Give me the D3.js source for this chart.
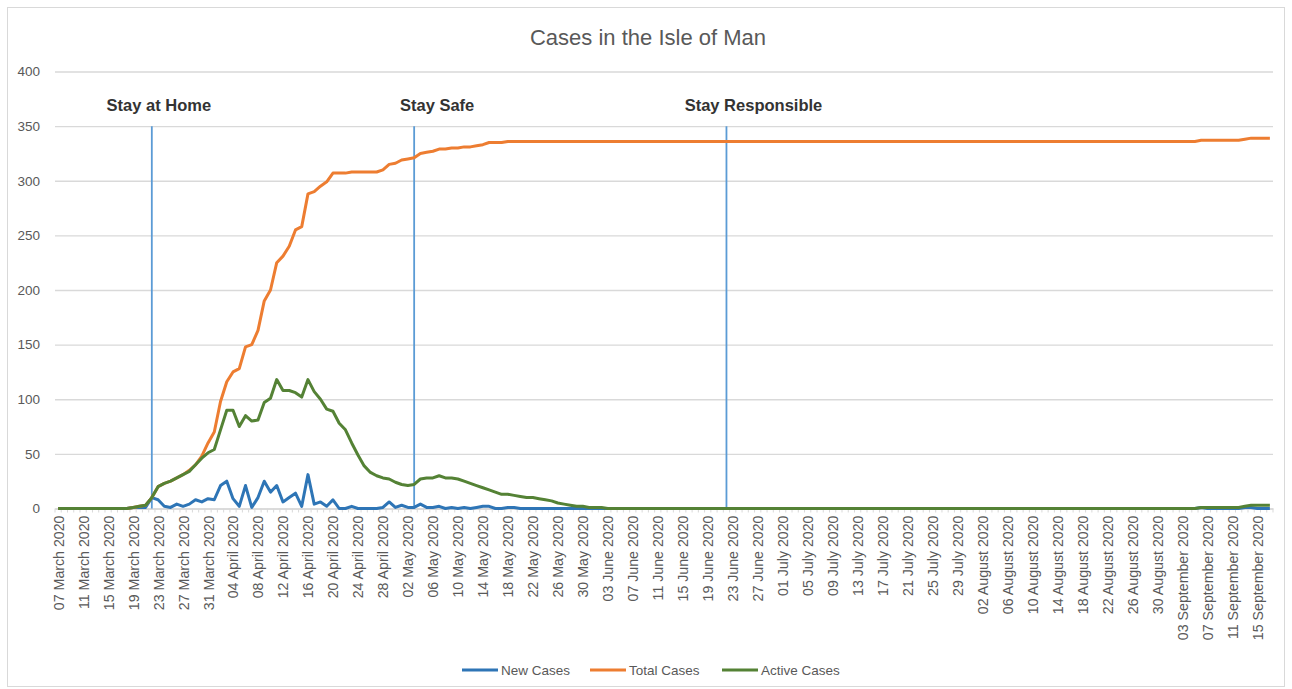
<!DOCTYPE html>
<html>
<head>
<meta charset="utf-8">
<script src="https://cdn.jsdelivr.net/npm/d3@7"></script>
<style>
  body { margin: 0; background: #fff; }
  text { font-family: "Liberation Sans", Arial, sans-serif; }
</style>
</head>
<body>
<div id="chart"></div>
<script>
// ---- data ----
var firstDay = "2020-03-07";
var lastDay = "2020-09-17";

var seriesNames = ["New Cases", "Total Cases", "Active Cases"];
var seriesColors = ["#2e75b6", "#ed7d31", "#548235"];

var newCases = [
  0,0,0,0,0,0,0,0,0,0, 0,0,1,1,1,10,8,2,1,4,
  2,4,8,6,9,8,21,25,9,2, 21,1,10,25,15,21,6,10,14,2,
  31,4,6,2,8,0,0,2,0,0, 0,0,1,6,1,3,1,1,4,1,
  1,2,0,1,0,1,0,1,2,2, 0,0,1,1,0,0,0,0,0,0,
  0,0,0,0,0,0,0,0,0,0, 0,0,0,0,0,0,0,0,0,0,
  0,0,0,0,0,0,0,0,0,0, 0,0,0,0,0,0,0,0,0,0,
  0,0,0,0,0,0,0,0,0,0, 0,0,0,0,0,0,0,0,0,0,
  0,0,0,0,0,0,0,0,0,0, 0,0,0,0,0,0,0,0,0,0,
  0,0,0,0,0,0,0,0,0,0, 0,0,0,0,0,0,0,0,0,0,
  0,0,0,1,0,0,0,0,0,0, 1,1,0,0,0
];

var totalCases = [
  0,0,0,0,0,0,0,0,0,0, 0,0,1,2,3,10,20,23,25,28,
  31,35,40,48,60,70,98,116,125,128, 148,150,163,190,200,225,231,240,255,258,
  288,290,295,299,307,307,307,308,308,308, 308,308,310,315,316,319,320,321,325,326,
  327,329,329,330,330,331,331,332,333,335, 335,335,336,336,336,336,336,336,336,336,
  336,336,336,336,336,336,336,336,336,336, 336,336,336,336,336,336,336,336,336,336,
  336,336,336,336,336,336,336,336,336,336, 336,336,336,336,336,336,336,336,336,336,
  336,336,336,336,336,336,336,336,336,336, 336,336,336,336,336,336,336,336,336,336,
  336,336,336,336,336,336,336,336,336,336, 336,336,336,336,336,336,336,336,336,336,
  336,336,336,336,336,336,336,336,336,336, 336,336,336,336,336,336,336,336,336,336,
  336,336,336,337,337,337,337,337,337,337, 338,339,339,339,339
];

var activeCases = [
  0,0,0,0,0,0,0,0,0,0, 0,0,1,2,3,10,20,23,25,28,
  31,34,40,46,51,54,72,90,90,75, 85,80,81,97,101,118,108,108,106,102,
  118,107,100,91,89,78,72,60,49,39, 33,30,28,27,24,22,21,22,27,28,
  28,30,28,28,27,25,23,21,19,17, 15,13,13,12,11,10,10,9,8,7,
  5,4,3,2,2,1,1,1,0,0, 0,0,0,0,0,0,0,0,0,0,
  0,0,0,0,0,0,0,0,0,0, 0,0,0,0,0,0,0,0,0,0,
  0,0,0,0,0,0,0,0,0,0, 0,0,0,0,0,0,0,0,0,0,
  0,0,0,0,0,0,0,0,0,0, 0,0,0,0,0,0,0,0,0,0,
  0,0,0,0,0,0,0,0,0,0, 0,0,0,0,0,0,0,0,0,0,
  0,0,0,1,1,1,1,1,1,1, 2,3,3,3,3
];

var yTicks = [0, 50, 100, 150, 200, 250, 300, 350, 400];

var eventDates = ["2020-03-22", "2020-05-03", "2020-06-22"];
var eventLabels = ["Stay at Home", "Stay Safe", "Stay Responsible"];
var eventTop = 350;

// ---- layout ----
var W = 1292, H = 689;
var margin = {top: 71.5, right: 19, bottom: 180.5, left: 55};
var width = W - margin.left - margin.right;
var height = H - margin.top - margin.bottom;
var grey = "#595959";

var parse = d3.timeParse("%Y-%m-%d");
var fmt = d3.timeFormat("%d %B %Y");
var days = d3.timeDay.range(parse(firstDay), d3.timeDay.offset(parse(lastDay), 1));

var svg = d3.select("#chart").append("svg")
    .attr("width", W)
    .attr("height", H);

// chart frame
svg.append("rect")
    .attr("x", 7.5).attr("y", 7.5)
    .attr("width", W - 15).attr("height", H - 10)
    .attr("fill", "#fff")
    .attr("stroke", "#d9d9d9");

svg.append("text")
    .attr("x", 648).attr("y", 45)
    .attr("text-anchor", "middle")
    .attr("font-size", 22)
    .attr("fill", grey)
    .text("Cases in the Isle of Man");

var chart = svg.append("g")
    .attr("transform", "translate(" + margin.left + "," + margin.top + ")");

/*----- SCALES -----*/
var xScale = d3.scalePoint()
    .domain(days.map(function(d) { return +d; }))
    .range([0, width])
    .padding(0.5);
var step = xScale.step();

var yScale = d3.scaleLinear()
    .domain([0, 400])
    .range([height, 0]);

/*----- AXES -----*/
var yAxis = d3.axisLeft(yScale)
    .tickValues(yTicks)
    .tickSize(-width)
    .tickPadding(15);

chart.append("g")
    .attr("class", "y axis")
    .call(yAxis)
    .call(function(g) {
        g.select(".domain").remove();
        g.selectAll(".tick line").attr("stroke", "#d9d9d9").attr("stroke-width", 1.3);
        g.selectAll(".tick text").attr("fill", grey).attr("font-size", 13.5);
    });

// small category tick marks along the bottom
chart.append("g")
    .selectAll("line")
    .data(d3.range(days.length + 1))
    .enter().append("line")
    .attr("x1", function(i) { return i * step; })
    .attr("x2", function(i) { return i * step; })
    .attr("y1", height)
    .attr("y2", height + 4)
    .attr("stroke", "#d9d9d9");

var labelDays = days.filter(function(d, i) { return i % 4 === 0; });
var xAxis = d3.axisBottom(xScale)
    .tickValues(labelDays.map(function(d) { return +d; }))
    .tickFormat(function(d) { return fmt(new Date(d)); })
    .tickSize(0);

var xg = chart.append("g")
    .attr("class", "x axis")
    .attr("transform", "translate(0," + height + ")")
    .call(xAxis);
xg.select(".domain").attr("stroke", "#d9d9d9").attr("stroke-width", 1.3);
xg.selectAll(".tick text")
    .attr("fill", grey)
    .attr("font-size", 14.2)
    .attr("text-anchor", "end")
    .attr("transform", "rotate(-90)")
    .attr("x", -7)
    .attr("y", 0)
    .attr("dy", "0.35em");

/*----- EVENT LINES -----*/
var labelShift = [7, 23, 27];
eventDates.forEach(function(ds, k) {
    var ex = xScale(+parse(ds));
    chart.append("line")
        .attr("x1", ex).attr("x2", ex)
        .attr("y1", yScale(0)).attr("y2", yScale(eventTop))
        .attr("stroke", "#5b9bd5")
        .attr("stroke-width", 1.8);
    chart.append("text")
        .attr("x", ex + labelShift[k])
        .attr("y", yScale(eventTop) - 15)
        .attr("text-anchor", "middle")
        .attr("font-size", 16.5)
        .attr("font-weight", "bold")
        .attr("fill", "#333")
        .text(eventLabels[k]);
});

/*----- LINES -----*/
var seriesData = [newCases, totalCases, activeCases];
var line = d3.line()
    .x(function(d, i) { return xScale(+days[i]); })
    .y(function(d) { return yScale(d); });

chart.selectAll(".series")
    .data(seriesData)
    .enter().append("path")
    .attr("class", "series")
    .attr("d", line)
    .attr("fill", "none")
    .attr("stroke", function(d, i) { return seriesColors[i]; })
    .attr("stroke-width", 3)
    .attr("stroke-linejoin", "round");

/*----- LEGEND -----*/
var legendX = [462, 590, 722];
var legend = svg.append("g").attr("transform", "translate(0,670)");
seriesNames.forEach(function(name, i) {
    legend.append("line")
        .attr("x1", legendX[i]).attr("x2", legendX[i] + 36)
        .attr("y1", 0).attr("y2", 0)
        .attr("stroke", seriesColors[i])
        .attr("stroke-width", 3);
    legend.append("text")
        .attr("x", legendX[i] + 39)
        .attr("y", 0)
        .attr("dy", "0.35em")
        .attr("font-size", 13.5)
        .attr("fill", grey)
        .text(name);
});
</script>
</body>
</html>
